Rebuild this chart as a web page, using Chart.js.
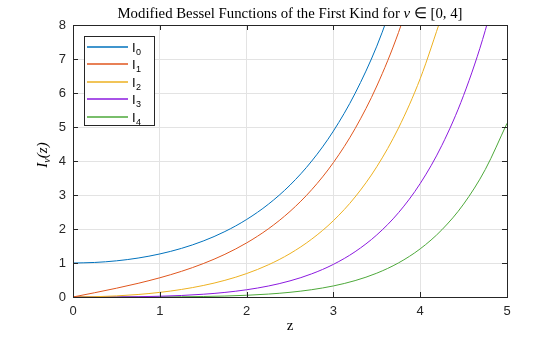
<!DOCTYPE html>
<html>
<head>
<meta charset="utf-8">
<script src="https://cdn.jsdelivr.net/npm/chart.js@4/dist/chart.umd.min.js"></script>
<style>
  html, body { margin: 0; padding: 0; background: #fff; }
  #wrap { width: 560px; height: 337px; }
</style>
</head>
<body>
<div id="wrap"><canvas id="c"></canvas></div>
<script>
// values, z step 0.25 (curves stop once they leave the top)
const zValues = [0, 0.25, 0.5, 0.75, 1, 1.25, 1.5, 1.75, 2, 2.25, 2.5, 2.75, 3, 3.25, 3.5, 3.75, 4, 4.25, 4.5, 4.75, 5];
const i0 = [1, 1.0157, 1.0635, 1.1456, 1.2661, 1.4305, 1.6467, 1.9253, 2.2796, 2.7271, 3.2898, 3.9969, 4.8808, 5.9894, 7.3782, 9.1190];
const i1 = [0, 0.1260, 0.2579, 0.4020, 0.5652, 0.7553, 0.9817, 1.2555, 1.5906, 2.0040, 2.5167, 3.1554, 3.9534, 4.9526, 6.2058, 7.7801, 9.7595];
const i2 = [0, 0.0079, 0.0319, 0.0737, 0.1357, 0.2221, 0.3378, 0.4904, 0.6889, 0.9458, 1.2765, 1.7021, 2.2452, 2.9417, 3.8320, 4.9696, 6.4222, 8.2762];
const i3 = [0, 0.0003, 0.0026, 0.0091, 0.0222, 0.0448, 0.0809, 0.1347, 0.2128, 0.3226, 0.4743, 0.6811, 0.9598, 1.3321, 1.8263, 2.4791, 3.3373, 4.4615, 5.9309, 7.8435, 10.3311];
const i4 = [0, 0.0000, 0.0002, 0.0008, 0.0027, 0.0069, 0.0147, 0.0284, 0.0507, 0.0855, 0.1380, 0.2150, 0.3257, 0.4824, 0.7011, 1.0031, 1.4163, 1.9776, 2.7329, 3.7509, 5.1082];
const seriesNames = ['0', '1', '2', '3', '4'];
const colors = ['#0072BD', '#E0561E', '#EDB120', '#8B1ADF', '#4DA83A'];
const xTicks = [0, 1, 2, 3, 4, 5];
const yTicks = [0, 1, 2, 3, 4, 5, 6, 7, 8];

const axisColor = '#262626';
const sans = '"Liberation Sans", Arial, sans-serif';
const serif = '"Liberation Serif", "Times New Roman", serif';

const toPoints = (ys) => ys.map((y, i) => ({ x: zValues[i], y }));

// box, inward ticks, title, axis labels and legend, MATLAB style
const decorations = {
  id: 'decorations',
  afterDatasetsDraw(chart) {
    const { ctx, chartArea: a, scales } = chart;
    ctx.save();
    ctx.strokeStyle = axisColor;
    ctx.lineWidth = 1;
    ctx.strokeRect(Math.round(a.left) + 0.5, Math.round(a.top) + 0.5, Math.round(a.right - a.left), Math.round(a.bottom - a.top));

    const tl = 5;
    ctx.beginPath();
    xTicks.forEach(v => {
      const px = Math.round(scales.x.getPixelForValue(v)) + 0.5;
      ctx.moveTo(px, a.bottom); ctx.lineTo(px, a.bottom - tl);
      ctx.moveTo(px, a.top); ctx.lineTo(px, a.top + tl);
    });
    yTicks.forEach(v => {
      const py = Math.round(scales.y.getPixelForValue(v)) + 0.5;
      ctx.moveTo(a.left, py); ctx.lineTo(a.left + tl, py);
      ctx.moveTo(a.right, py); ctx.lineTo(a.right - tl, py);
    });
    ctx.stroke();

    // title with italic nu
    ctx.fillStyle = '#000';
    ctx.textBaseline = 'alphabetic';
    const parts = [
      ['Modified Bessel Functions of the First Kind for ', '14.8px ' + serif],
      ['\u03BD', 'italic 14.8px ' + serif],
      [' \u2208 [0, 4]', '14.8px ' + serif]
    ];
    let total = 0;
    parts.forEach(p => { ctx.font = p[1]; total += ctx.measureText(p[0]).width; });
    let x = (a.left + a.right) / 2 - total / 2;
    parts.forEach(p => {
      ctx.font = p[1];
      ctx.textAlign = 'left';
      ctx.fillText(p[0], x, 18);
      x += ctx.measureText(p[0]).width;
    });

    // x label
    ctx.font = '15px ' + serif;
    ctx.textAlign = 'center';
    ctx.fillText('z', (a.left + a.right) / 2, 330);

    // y label I_nu(z)
    ctx.translate(42, 155);
    ctx.rotate(-Math.PI / 2);
    const yl = [
      ['I', 'italic 15px ' + serif, 0],
      ['\u03BD', 'italic 10px ' + serif, 3],
      ['(z)', 'italic 15px ' + serif, 0]
    ];
    total = 0;
    yl.forEach(p => { ctx.font = p[1]; total += ctx.measureText(p[0]).width; });
    x = -total / 2;
    ctx.textAlign = 'left';
    yl.forEach(p => {
      ctx.font = p[1];
      ctx.fillText(p[0], x, 5 + p[2]);
      x += ctx.measureText(p[0]).width;
    });
    ctx.setTransform(1, 0, 0, 1, 0, 0);

    // legend
    const lx = 84, ly = 36, lw = 70, lh = 89;
    ctx.fillStyle = '#fff';
    ctx.fillRect(lx, ly, lw, lh);
    ctx.strokeStyle = axisColor;
    ctx.strokeRect(lx + 0.5, ly + 0.5, lw, lh);
    chart.data.datasets.forEach((ds, i) => {
      const ry = ly + 10.5 + i * 17.5;
      ctx.strokeStyle = ds.borderColor;
      ctx.lineWidth = 1.5;
      ctx.beginPath();
      ctx.moveTo(lx + 3, Math.round(ry));
      ctx.lineTo(lx + 44, Math.round(ry));
      ctx.stroke();
      ctx.fillStyle = '#000';
      ctx.textAlign = 'left';
      ctx.font = '13px ' + sans;
      ctx.fillText('I', lx + 48, ry + 5);
      const w = ctx.measureText('I').width;
      ctx.font = '9px ' + sans;
      ctx.fillText(seriesNames[i], lx + 48 + w + 0.5, ry + 8);
    });
    ctx.restore();
  }
};

const datasets = [i0, i1, i2, i3, i4].map((ys, i) => ({
  label: 'I' + seriesNames[i],
  data: toPoints(ys),
  borderColor: colors[i],
  backgroundColor: colors[i],
  borderWidth: 1,
  pointRadius: 0,
  cubicInterpolationMode: 'monotone',
  fill: false
}));

new Chart(document.getElementById('c'), {
  type: 'line',
  data: { datasets },
  options: {
    responsive: true,
    maintainAspectRatio: false,
    animation: false,
    layout: { padding: { top: 25, right: 53, left: 0, bottom: 0 } },
    plugins: { legend: { display: false }, title: { display: false }, tooltip: { enabled: false } },
    scales: {
      x: {
        type: 'linear',
        min: 0, max: 5,
        afterFit: (s) => { s.height = 40; },
        afterBuildTicks: (s) => { s.ticks = xTicks.map(v => ({ value: v })); },
        grid: { color: '#e3e3e3', drawTicks: false },
        border: { display: false },
        ticks: { color: axisColor, padding: 7, font: { family: sans, size: 13 } }
      },
      y: {
        min: 0, max: 8,
        afterFit: (s) => { s.width = 73; },
        afterBuildTicks: (s) => { s.ticks = yTicks.map(v => ({ value: v })); },
        grid: { color: '#e3e3e3', drawTicks: false },
        border: { display: false },
        ticks: { color: axisColor, padding: 7, font: { family: sans, size: 13 } }
      }
    }
  },
  plugins: [decorations]
});
</script>
</body>
</html>
